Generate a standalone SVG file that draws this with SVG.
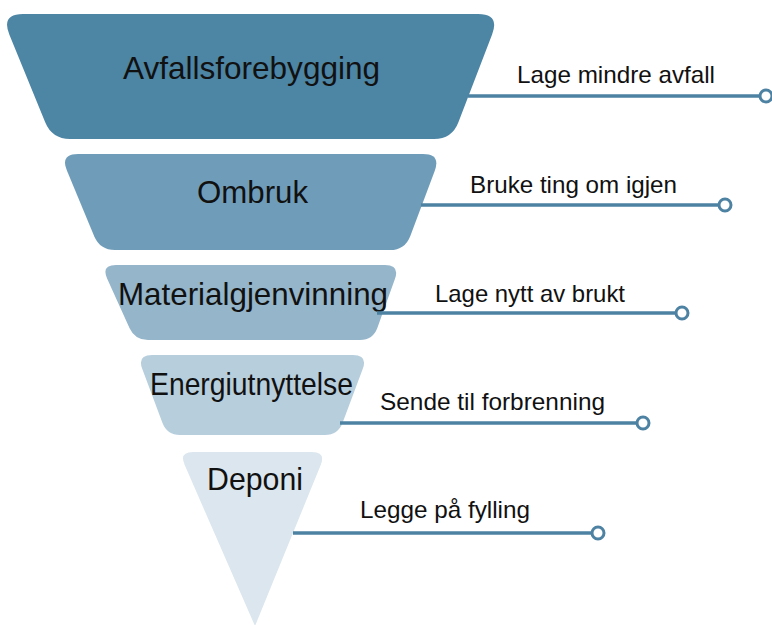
<svg xmlns="http://www.w3.org/2000/svg" width="772" height="625" viewBox="0 0 772 625">
  <style>
    .lbl { font-family: "Liberation Sans", Arial, sans-serif; font-size: 32px; fill: #111111; }
    .side { font-family: "Liberation Sans", Arial, sans-serif; font-size: 24px; fill: #111111; }
    .conn { stroke: #4e82a3; stroke-width: 3.5; fill: none; }
    .end { stroke: #4e82a3; stroke-width: 3; fill: #ffffff; }
  </style>
  <rect width="772" height="625" fill="#ffffff"/>

  <g id="node-avfallsforebygging">
    <path d="M23,14 L478,14 Q500,14 492.1,34.5 L458.4,122.2 Q452,139 434,139 L70,139 Q52,139 45.2,122.3 L9.3,34.4 Q1,14 23,14 Z" fill="#4d85a5"/>
    <text class="lbl" x="123" y="79" textLength="257" lengthAdjust="spacingAndGlyphs">Avfallsforebygging</text>
  </g>

  <g id="node-ombruk">
    <path d="M78,154 L423,154 Q441,154 434.7,170.9 L410.3,235.9 Q405,250 390,250 L115,250 Q100,250 94.2,236.2 L66.9,170.6 Q60,154 78,154 Z" fill="#6f9db9"/>
    <text class="lbl" x="197" y="203" textLength="111" lengthAdjust="spacingAndGlyphs">Ombruk</text>
  </g>

  <g id="node-materialgjenvinning">
    <path d="M116,265 L385,265 Q400,265 394.9,279.1 L377.4,327.8 Q373,340 360,340 L148,340 Q135,340 129.6,328.2 L107.2,278.7 Q101,265 116,265 Z" fill="#94b5ca"/>
    <text class="lbl" x="118" y="305" textLength="270" lengthAdjust="spacingAndGlyphs">Materialgjenvinning</text>
  </g>

  <g id="node-energiutnyttelse">
    <path d="M152,355 L353,355 Q368,355 362.7,369.1 L342.6,422.8 Q338,435 325,435 L180,435 Q167,435 162.4,422.8 L142.3,369.1 Q137,355 152,355 Z" fill="#b7cedd"/>
    <text class="lbl" x="150" y="395" textLength="203" lengthAdjust="spacingAndGlyphs">Energiutnyttelse</text>
  </g>

  <g id="node-deponi">
    <path d="M193,452 L312,452 Q326,452 320.7,465 L255,626 L184.6,464.8 Q179,452 193,452 Z" fill="#dbe6ee"/>
    <text class="lbl" x="207" y="490" textLength="96" lengthAdjust="spacingAndGlyphs">Deponi</text>
  </g>

  <g id="connectors">
    <line class="conn" x1="468" y1="96" x2="760" y2="96"/>
    <circle class="end" cx="766" cy="96" r="6"/>
    <line class="conn" x1="421" y1="205" x2="719" y2="205"/>
    <circle class="end" cx="725" cy="205" r="6"/>
    <line class="conn" x1="377" y1="313" x2="676" y2="313"/>
    <circle class="end" cx="682" cy="313" r="6"/>
    <line class="conn" x1="340" y1="423" x2="637" y2="423"/>
    <circle class="end" cx="643" cy="423" r="6"/>
    <line class="conn" x1="293" y1="533" x2="592" y2="533"/>
    <circle class="end" cx="598" cy="533" r="6"/>
  </g>

  <g id="labels">
    <text class="side" x="517" y="83" textLength="198" lengthAdjust="spacingAndGlyphs">Lage mindre avfall</text>
    <text class="side" x="470" y="193" textLength="207" lengthAdjust="spacingAndGlyphs">Bruke ting om igjen</text>
    <text class="side" x="435" y="302" textLength="190" lengthAdjust="spacingAndGlyphs">Lage nytt av brukt</text>
    <text class="side" x="380" y="410" textLength="225" lengthAdjust="spacingAndGlyphs">Sende til forbrenning</text>
    <text class="side" x="360" y="518" textLength="170" lengthAdjust="spacingAndGlyphs">Legge på fylling</text>
  </g>
</svg>
